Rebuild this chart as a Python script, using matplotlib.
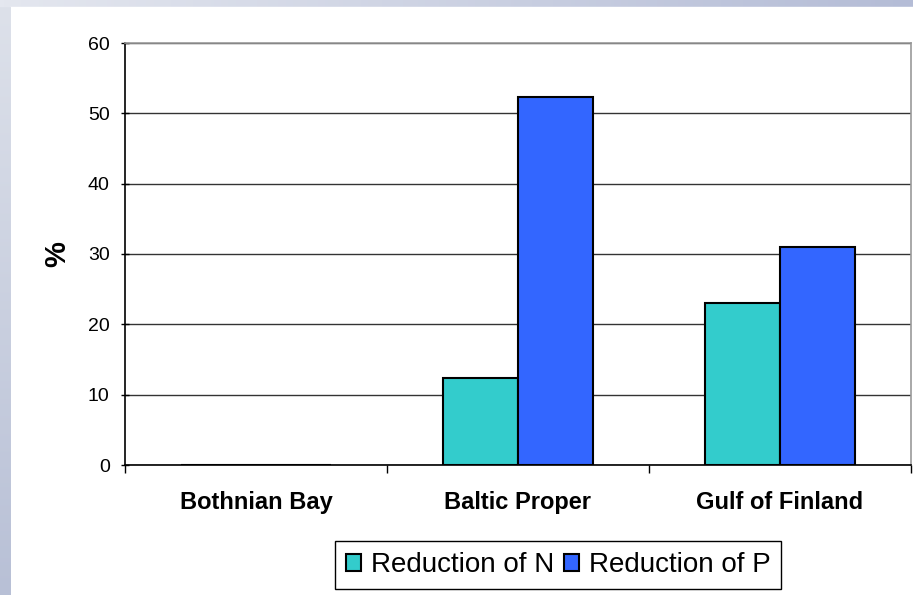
import matplotlib
matplotlib.use('Agg')
import matplotlib.pyplot as plt
import numpy as np
from matplotlib.patches import Rectangle

plt.rcParams['font.family'] = ['Liberation Sans', 'DejaVu Sans']

categories = ['Bothnian Bay', 'Baltic Proper', 'Gulf of Finland']
reduction_n = [0, 12.4, 23.1]
reduction_p = [0, 52.3, 31.0]
series_names = ['Reduction of N', 'Reduction of P']
yticks = [0, 10, 20, 30, 40, 50, 60]

fig = plt.figure(figsize=(9.13, 5.95), dpi=100)

# slide background: bluish strips at top and left
bg = fig.add_axes([0, 0, 1, 1], zorder=-10)
grad = np.linspace(0, 1, 256)
top = np.tile(grad, (2, 1))
bg.imshow(top, extent=(0, 1, 0, 1), aspect='auto', cmap=matplotlib.colors.LinearSegmentedColormap.from_list('g', ['#e4e7ef', '#b4bcd6']))
bg.add_patch(Rectangle((10 / 913, 0), 1, 1 - 7 / 595, color='white', zorder=2))
left = np.tile(grad[:, None], (1, 2))
bg.imshow(left, extent=(0, 10 / 913, 0, 1 - 7 / 595), aspect='auto', origin='upper',
          cmap=matplotlib.colors.LinearSegmentedColormap.from_list('l', ['#dde1ea', '#b8c0d6']), zorder=3)
bg.set_xlim(0, 1)
bg.set_ylim(0, 1)
bg.axis('off')

ax = fig.add_axes([125 / 913, 1 - 465 / 595, 786 / 913, 422 / 595])
x = np.arange(len(categories))
w = 0.2857
b1 = ax.bar(x - w / 2, reduction_n, w, color='#33CCCC', edgecolor='black', linewidth=1.5, label=series_names[0], zorder=2)
b2 = ax.bar(x + w / 2, reduction_p, w, color='#3366FF', edgecolor='black', linewidth=1.5, label=series_names[1], zorder=2)

ax.set_xlim(-0.5, len(categories) - 0.5)
ax.set_ylim(0, 60)
ax.set_yticks(yticks)
ax.set_yticklabels([str(t) for t in yticks], fontsize=14)
ax.yaxis.grid(True, color='#333333', linewidth=1.0)
ax.set_axisbelow(True)

ax.set_xticks(x)
ax.set_xticklabels(categories, fontsize=17, fontweight='bold')
ax.tick_params(axis='x', length=0, pad=19)
ax.set_xticks(np.arange(len(categories) + 1) - 0.5, minor=True)
ax.tick_params(axis='x', which='minor', length=6, width=1, direction='out')
ax.tick_params(axis='y', length=6, width=1, direction='inout', pad=8)

for s in ['left', 'bottom']:
    ax.spines[s].set_color('black')
    ax.spines[s].set_linewidth(1.2)
for s in ['top', 'right']:
    ax.spines[s].set_color('#999999')
    ax.spines[s].set_linewidth(1.2)

fig.text(57 / 913, 1 - 254 / 595, '%', rotation=90, fontsize=21, fontweight='bold', ha='center', va='center')

leg = fig.legend(handles=[b1, b2], loc='center', bbox_to_anchor=(558 / 913, 1 - 565 / 595), ncol=2,
                 fontsize=20, frameon=True, fancybox=False, edgecolor='black', framealpha=1,
                 handlelength=0.55, handleheight=0.55, handletextpad=0.35, columnspacing=0.35,
                 borderpad=0.4, borderaxespad=0)
leg.get_frame().set_linewidth(1.0)

fig.savefig('out.png', dpi=100)
